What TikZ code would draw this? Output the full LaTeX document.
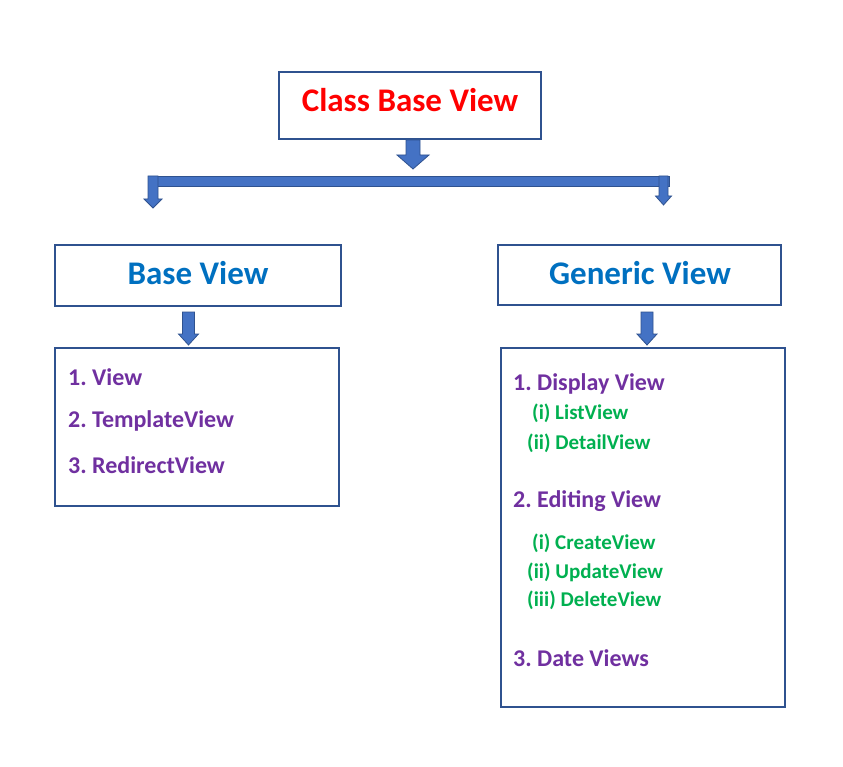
\documentclass[tikz,border=0pt]{standalone}
\usepackage{fontspec}
\setmainfont{Carlito}
\frenchspacing
\definecolor{boxblue}{HTML}{2F528F}
\definecolor{arrowfill}{HTML}{4472C4}
\definecolor{arrowline}{HTML}{2F528F}
\definecolor{titlered}{HTML}{FF0000}
\definecolor{headblue}{HTML}{0070C0}
\definecolor{itempurple}{HTML}{7030A0}
\definecolor{itemgreen}{HTML}{00B050}
\newcommand\blockdown[6]{\filldraw[blockarrow] (#1-#5,#2) -- (#1+#5,#2) -- (#1+#5,#3) -- (#1+#6,#3) -- (#1,#4) -- (#1-#6,#3) -- (#1-#5,#3) -- cycle;}
\tikzset{
  frame/.style={draw=boxblue, line width=1.5pt, fill=white, inner sep=0pt},
  titletext/.style={text=titlered, font=\fontsize{33}{40}\selectfont\bfseries},
  headtext/.style={text=headblue, font=\fontsize{33}{40}\selectfont\bfseries},
  purpleitem/.style={anchor=west, inner sep=0pt, text=itempurple, font=\fontsize{24}{28}\selectfont\bfseries},
  greenitem/.style={anchor=west, inner sep=0pt, text=itemgreen, font=\fontsize{21}{24}\selectfont\bfseries},
  blockarrow/.style={fill=arrowfill, draw=arrowline, line width=0.8pt, line join=miter}
}
\begin{document}
\begin{tikzpicture}[x=1pt,y=-1pt]
\useasboundingbox[fill=white] (0,0) rectangle (843,767);
% boxes
\node[frame, minimum width=262pt, minimum height=67pt] (top) at (410,105.5) {};
\node[titletext] (toptext) at (410,100) {Class Base View};
\node[frame, minimum width=286pt, minimum height=61pt] (base) at (198,275.5) {};
\node[headtext] (basetext) at (198,273) {Base View};
\node[frame, minimum width=283pt, minimum height=60pt] (generic) at (639.5,275) {};
\node[headtext] (generictext) at (640,273) {Generic View};
\node[frame, minimum width=284pt, minimum height=158pt] (baselist) at (197,427) {};
\node[frame, minimum width=284pt, minimum height=359pt] (genlist) at (643,527.5) {};
% arrows
\blockdown{413}{140}{155}{169}{7}{16}
\filldraw[blockarrow] (148,176) rectangle (669,186);
\blockdown{153}{176}{199}{208}{5}{9}
\blockdown{663.5}{176}{196}{205}{4.5}{8}
\blockdown{188.5}{312}{334}{345}{6}{10}
\blockdown{647}{312}{334}{345}{6}{10}
% base list
\node[purpleitem] (b1) at (68,377) {1. View};
\node[purpleitem] (b2) at (68,421) {2. TemplateView};
\node[purpleitem] (b3) at (68,465) {3. RedirectView};
% generic list
\node[purpleitem] (g1) at (513,384) {1. Display View};
\node[greenitem] (g1a) at (532,413) {(i) ListView};
\node[greenitem] (g1b) at (527,443) {(ii) DetailView};
\node[purpleitem] (g2) at (513,501) {2. Editing View};
\node[greenitem] (g2a) at (532,543) {(i) CreateView};
\node[greenitem] (g2b) at (527,572) {(ii) UpdateView};
\node[greenitem] (g2c) at (527,600) {(iii) DeleteView};
\node[purpleitem] (g3) at (513,658) {3. Date Views};
\end{tikzpicture}
\end{document}
